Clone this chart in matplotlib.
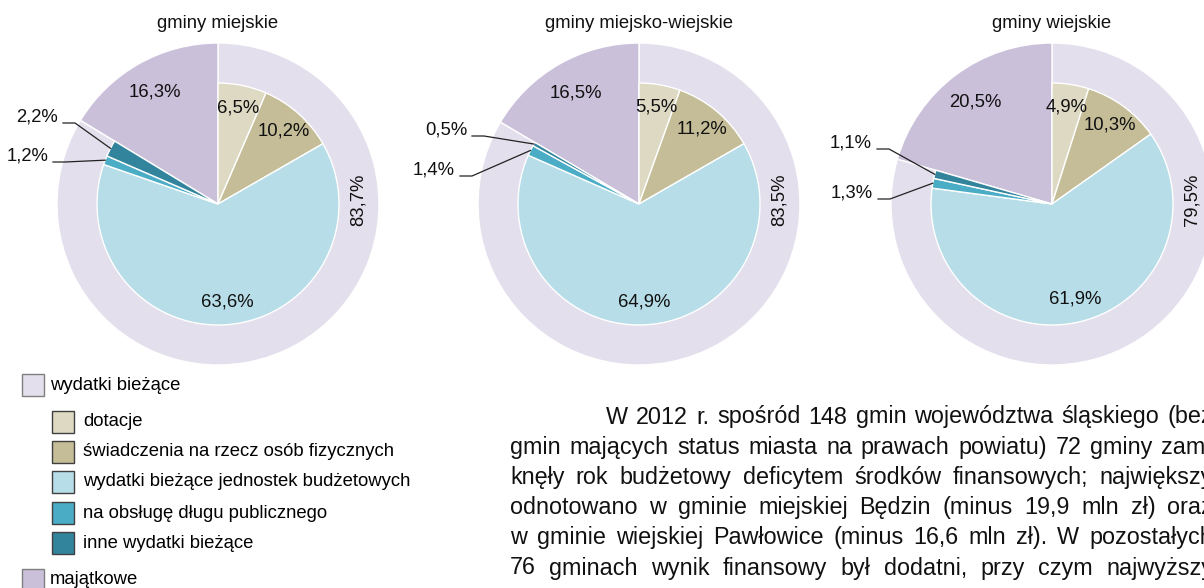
import numpy as np
import matplotlib
matplotlib.use('Agg')
import matplotlib.pyplot as plt
from matplotlib.patches import Rectangle

plt.rcParams['font.family'] = ['Liberation Sans', 'DejaVu Sans']

# Dane (udział w wydatkach ogółem, %)
tytuly = ['gminy miejskie', 'gminy miejsko-wiejskie', 'gminy wiejskie']
dotacje = [6.5, 5.5, 4.9]
swiadczenia = [10.2, 11.2, 10.3]
jednostki = [63.6, 64.9, 61.9]
dlug = [1.2, 1.4, 1.3]
inne = [2.2, 0.5, 1.1]
biezace = [83.7, 83.5, 79.5]
majatkowe = [16.3, 16.5, 20.5]

legenda_glowna = ['wydatki bieżące', 'majątkowe']
legenda_pod = ['dotacje', 'świadczenia na rzecz osób fizycznych',
               'wydatki bieżące jednostek budżetowych',
               'na obsługę długu publicznego', 'inne wydatki bieżące']

tekst = [
    'W 2012 r. spośród 148 gmin województwa śląskiego (bez',
    'gmin mających status miasta na prawach powiatu) 72 gminy zam-',
    'knęły rok budżetowy deficytem środków finansowych; największy',
    'odnotowano w gminie miejskiej Będzin (minus 19,9 mln zł) oraz',
    'w gminie wiejskiej Pawłowice (minus 16,6 mln zł). W pozostałych',
    '76 gminach wynik finansowy był dodatni, przy czym najwyższy',
]

# Kolory
k_biezace = '#e4dfec'
k_majatkowe = '#cbc0da'
k_pod = ['#ddd9c3', '#c4bd97', '#b7dde8', '#4bacc6', '#31849b']

W, H = 1204, 588
fig = plt.figure(figsize=(W / 100, H / 100), dpi=100)
ax = fig.add_axes([0, 0, 1, 1])


def py(y):
    # piksele od góry -> współrzędne osi
    return H - y


def fmt(v):
    return f'{v:.1f}'.replace('.', ',') + '%'


srodki_x = [218, 639, 1052]
sr_y = 204
R = 161
r = 121
wp = dict(edgecolor='white', linewidth=1)
fs = 13.3

# pozycje etykiet z liniami odniesienia (prawy brzeg tekstu, względem środka)
odnosniki = [[(-160, -87), (-170, -48)],
             [(-172, -74), (-184, -34)],
             [(-180, -61), (-179, -11)]]

for i in range(3):
    cx, cy = srodki_x[i], py(sr_y)
    zew, _ = ax.pie([biezace[i], majatkowe[i]], radius=R, center=(cx, cy),
                    startangle=90, counterclock=False,
                    colors=[k_biezace, k_majatkowe], wedgeprops=wp)
    wew_vals = [dotacje[i], swiadczenia[i], jednostki[i], dlug[i], inne[i]]
    wew, _ = ax.pie(np.array(wew_vals) / 100, normalize=False, radius=r,
                    center=(cx, cy), startangle=90, counterclock=False,
                    colors=k_pod, wedgeprops=wp)

    # etykiety wewnątrz
    for w, v in zip(wew[:3], wew_vals[:3]):
        th = np.deg2rad((w.theta1 + w.theta2) / 2)
        ax.text(cx + 98 * np.cos(th), cy + 98 * np.sin(th), fmt(v),
                ha='center', va='center', fontsize=fs, color='#111111')
    w = zew[1]
    th = np.deg2rad((w.theta1 + w.theta2) / 2)
    ax.text(cx + 128 * np.cos(th), cy + 128 * np.sin(th), fmt(majatkowe[i]),
            ha='center', va='center', fontsize=fs, color='#111111')

    # etykieta pierścienia
    ax.text(cx + 140, cy + 4, fmt(biezace[i]), rotation=90,
            ha='center', va='center', fontsize=fs, color='#111111')

    # małe wycinki z liniami
    for w, v, (dx, dy) in zip([wew[4], wew[3]], [inne[i], dlug[i]], odnosniki[i]):
        th = np.deg2rad((w.theta1 + w.theta2) / 2)
        axx, axy = cx + r * np.cos(th), cy + r * np.sin(th)
        tx, ty = cx + dx, cy - dy
        ax.text(tx, ty, fmt(v), ha='right', va='center', fontsize=fs,
                color='#111111')
        ax.plot([tx + 5, tx + 17, axx], [ty - 6, ty - 6, axy],
                color='#222222', lw=0.9)

    ax.text(cx, py(23), tytuly[i], ha='center', va='center', fontsize=fs,
            color='#111111')

# Legenda
def box(x, yc, kolor, edge):
    ax.add_patch(Rectangle((x, py(yc) - 11), 22, 22, facecolor=kolor,
                           edgecolor=edge, lw=1))

box(22, 385, k_biezace, '#7f7f7f')
ax.text(50, py(385), legenda_glowna[0], ha='left', va='center', fontsize=fs)
for j, (lab, kol) in enumerate(zip(legenda_pod, k_pod)):
    yc = [422, 452, 482, 513, 543][j]
    box(52, yc, kol, '#404040')
    ax.text(83, py(yc), lab, ha='left', va='center', fontsize=fs)
box(22, 580, k_majatkowe, '#7f7f7f')
ax.text(50, py(580), legenda_glowna[1], ha='left', va='center', fontsize=fs)

ax.set_xlim(0, W)
ax.set_ylim(0, H)
ax.set_aspect('equal')
ax.axis('off')

# Tekst akapitu (wyjustowany)
renderer = fig.canvas.get_renderer()
prawy = 1213
for n, linia in enumerate(tekst):
    slowa = linia.split()
    lewy = 606 if n == 0 else 510
    y = py(417 + 30.2 * n)
    tt = [ax.text(0, y, s, ha='left', va='center', fontsize=16.8,
                  color='#111111') for s in slowa]
    szer = [t.get_window_extent(renderer).width for t in tt]
    odst = (prawy - lewy - sum(szer)) / (len(slowa) - 1)
    x = lewy
    for t, s in zip(tt, szer):
        t.set_x(x)
        x += s + odst

fig.savefig('out.png', dpi=100)
